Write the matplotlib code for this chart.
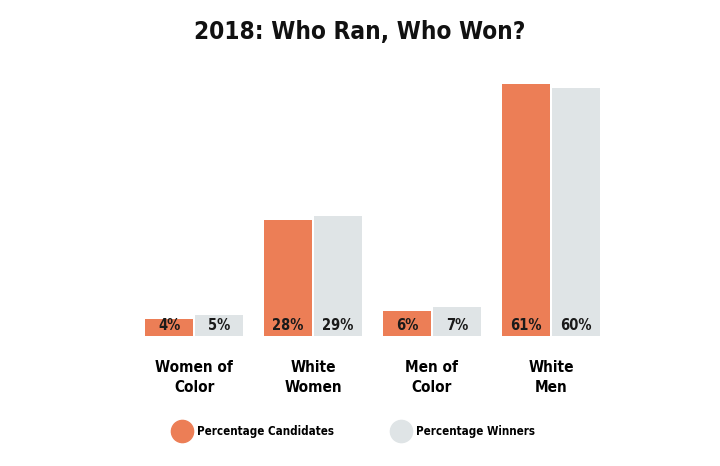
import matplotlib.pyplot as plt
import numpy as np
from matplotlib.lines import Line2D

# data
categories = ['Women of\nColor', 'White\nWomen', 'Men of\nColor', 'White\nMen']
candidates = [4, 28, 6, 61]
winners = [5, 29, 7, 60]

orange = '#EC7E56'
grey = '#DFE4E6'
plt.rcParams['font.family'] = ['DejaVu Sans']
plt.rcParams['font.stretch'] = 'condensed'

fig = plt.figure(figsize=(7.2, 4.66), dpi=100)
W, H = 720, 466
ax = fig.add_axes([99 / W, (H - 336) / H, (646 - 99) / W, 256 / H])

x = np.arange(len(categories))
w = 0.405
b1 = ax.bar(x - 0.21, candidates, w, color=orange)
b2 = ax.bar(x + 0.21, winners, w, color=grey)

for bars, vals in [(b1, candidates), (b2, winners)]:
    for r, v in zip(bars, vals):
        ax.text(r.get_x() + r.get_width() / 2, 2.5, f'{v}%', ha='center', va='center',
                fontsize=10.5, fontweight='bold', color='#1a1a1a')

ax.set_xlim(-0.8, 3.8)
ax.set_ylim(0, 62)
ax.set_xticks(x)
ax.set_xticklabels(categories, fontsize=11, fontweight='bold', linespacing=1.45)
ax.tick_params(length=0, pad=17)
ax.set_yticks([])
for s in ax.spines.values():
    s.set_visible(False)

fig.text(0.5, 0.932, '2018: Who Ran, Who Won?', ha='center', va='center',
         fontsize=17.5, fontweight='heavy', color='#111111')

handles = [Line2D([], [], marker='o', linestyle='none', markersize=16, color=orange),
           Line2D([], [], marker='o', linestyle='none', markersize=16, color=grey)]
fig.legend(handles, ['Percentage Candidates', 'Percentage Winners'], ncol=2,
           loc='center left', bbox_to_anchor=(160 / W, (H - 432) / H), frameon=False,
           handletextpad=0.3, columnspacing=4.8, prop={'weight': 'bold', 'size': 8.3})

fig.savefig('out.png', dpi=100)
